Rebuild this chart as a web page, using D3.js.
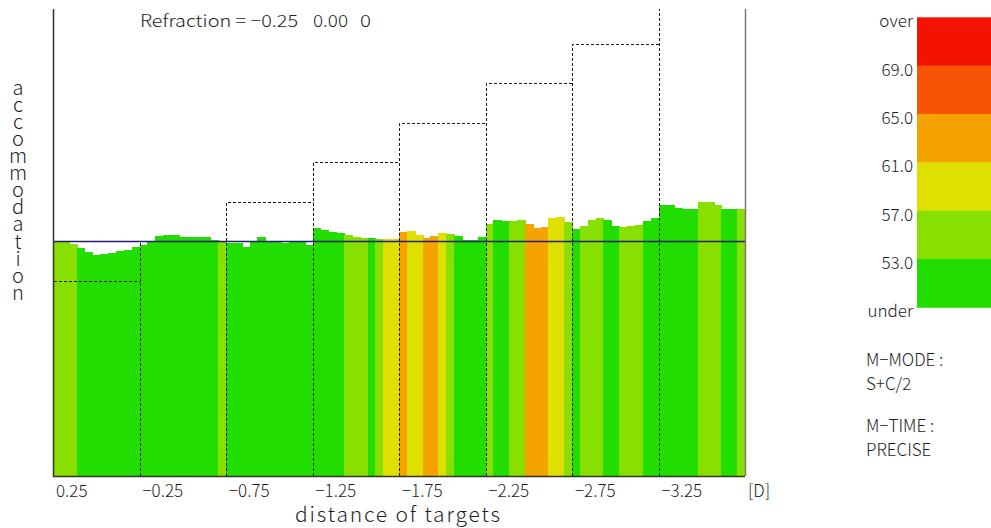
<!DOCTYPE html>
<html>
<head>
<meta charset="utf-8">
<script src="https://cdn.jsdelivr.net/npm/d3@7"></script>
<style>
  html, body { margin: 0; padding: 0; background: #fff; }
  svg { display: block; }
  text { font-family: "Noto Sans CJK JP", "DejaVu Sans", sans-serif; font-weight: 300; fill: #1e1e1e; }
</style>
</head>
<body>
<div id="chart"></div>
<script>
// target distances (D), one section each
var targets = ["0.25", "\u22120.25", "\u22120.75", "\u22121.25", "\u22121.75", "\u22122.25", "\u22122.75", "\u22123.25"];
// accommodation demand of each target relative to refraction (D)
var stepDemand = [-0.5, 0, 0.5, 1.0, 1.5, 2.0, 2.5, 3.0];

// measured accommodation per sample, 11 samples per target (D)
var accommodation = [
  -0.01, -0.01, -0.04, -0.09, -0.14, -0.18, -0.16, -0.15, -0.13, -0.11, -0.08,
  -0.05, 0.00, 0.06, 0.08, 0.07, 0.05, 0.05, 0.05, 0.05, 0.01, 0.00,
  -0.02, -0.03, -0.08, -0.01, 0.05, 0.00, 0.00, -0.02, 0.00, 0.00, -0.05,
  0.16, 0.14, 0.11, 0.10, 0.08, 0.05, 0.04, 0.04, 0.03, 0.02, 0.02,
  0.11, 0.13, 0.07, 0.04, 0.06, 0.10, 0.09, 0.06, 0.01, 0.01, 0.05,
  0.22, 0.27, 0.25, 0.25, 0.26, 0.22, 0.16, 0.18, 0.29, 0.31, 0.24,
  0.15, 0.19, 0.26, 0.29, 0.26, 0.19, 0.18, 0.19, 0.20, 0.25, 0.29,
  0.46, 0.45, 0.42, 0.41, 0.41, 0.50, 0.50, 0.45, 0.40, 0.40, 0.41
];
// fluctuation value per sample (colour)
var hfc = [
  55, 55, 55, 51, 51, 51, 51, 51, 51, 51, 51,
  51, 51, 51, 51, 51, 51, 51, 51, 51, 51, 55,
  51, 51, 51, 51, 51, 51, 51, 51, 51, 51, 51,
  51, 51, 51, 51, 55, 55, 55, 51, 55, 59, 59,
  63, 59, 59, 63, 63, 59, 55, 51, 51, 51, 51,
  55, 51, 51, 55, 55, 63, 63, 63, 59, 59, 55,
  51, 55, 55, 55, 51, 51, 55, 55, 55, 51, 51,
  51, 51, 51, 51, 51, 55, 55, 55, 51, 51, 55
];

var refraction = ["Refraction = \u22120.25", "0.00", "0"];
var legendLabels = ["over", "69.0", "65.0", "61.0", "57.0", "53.0", "under"];
var thresholds = [53, 57, 61, 65, 69];
var bandColors = ["#22dd00", "#88e000", "#e0e000", "#f5a300", "#f55505", "#f41200"];

var W = 991, H = 528;
var plot = {left: 53, right: 745, top: 9, bottom: 476};

var svg = d3.select("#chart").append("svg")
  .attr("width", W).attr("height", H);

svg.append("defs").append("clipPath").attr("id", "plotclip")
  .append("rect")
  .attr("x", plot.left).attr("y", plot.top)
  .attr("width", plot.right - plot.left + 1)
  .attr("height", plot.bottom - plot.top);

var x = d3.scaleBand()
  .domain(d3.range(accommodation.length))
  .range([plot.left, plot.right]);

var xSection = d3.scaleBand()
  .domain(targets)
  .range([plot.left, plot.right]);

var y = d3.scaleLinear()
  .domain([-3, 3])
  .range([478, 4]);

var color = d3.scaleThreshold()
  .domain(thresholds)
  .range(bandColors);

var g = svg.append("g").attr("clip-path", "url(#plotclip)");

// bars
g.selectAll("rect.bar")
  .data(accommodation)
  .enter().append("rect")
  .attr("class", "bar")
  .attr("x", function(d, i) { return Math.round(x(i)); })
  .attr("width", function(d, i) { return Math.round(x(i) + x.bandwidth()) - Math.round(x(i)) + 0.5; })
  .attr("y", function(d) { return Math.round(y(d)); })
  .attr("height", function(d) { return plot.bottom - Math.round(y(d)); })
  .attr("shape-rendering", "crispEdges")
  .attr("fill", function(d, i) { return color(hfc[i]); });

// dashed target steps: each boundary rises from the bottom to the next target level
var stepPath = "";
targets.forEach(function(t, i) {
  var x0 = Math.round(xSection(t)) + 0.5;
  var x1 = Math.round(xSection(t) + xSection.bandwidth()) + 0.5;
  var ys = Math.round(y(stepDemand[i])) + 0.5;
  stepPath += "M" + x0 + "," + plot.bottom + "V" + ys + "H" + x1;
  if (i === targets.length - 1) stepPath += "V" + plot.bottom;
});
g.append("path")
  .attr("d", stepPath)
  .attr("fill", "none")
  .attr("stroke", "#1a1a1a")
  .attr("stroke-width", 1)
  .attr("stroke-dasharray", "3,2");

// refraction line
svg.append("line")
  .attr("x1", plot.left).attr("x2", plot.right)
  .attr("y1", Math.round(y(0)) + 0.5).attr("y2", Math.round(y(0)) + 0.5)
  .attr("stroke", "#1f1f78")
  .attr("stroke-width", 1.3);

// frame
svg.append("path")
  .attr("d", "M" + (plot.left + 0.5) + "," + plot.top + "V" + (plot.bottom + 0.5) + "H" + plot.right)
  .attr("fill", "none").attr("stroke", "#333").attr("stroke-width", 1.5);
svg.append("line")
  .attr("x1", plot.right + 0.5).attr("x2", plot.right + 0.5)
  .attr("y1", plot.top).attr("y2", plot.bottom)
  .attr("stroke", "#777").attr("stroke-width", 1.5);

// x tick labels
svg.selectAll("text.tick")
  .data(targets)
  .enter().append("text")
  .attr("class", "tick")
  .attr("x", function(d) { return xSection(d) + 3; })
  .attr("y", 497)
  .attr("font-size", 17)
  .text(function(d) { return d; });

svg.append("text")
  .attr("x", 748).attr("y", 497)
  .attr("font-size", 17)
  .text("[D]");

svg.append("text")
  .attr("x", 295).attr("y", 522)
  .attr("font-size", 21)
  .attr("textLength", 205)
  .attr("lengthAdjust", "spacing")
  .text("distance of targets");

// vertical y label, letters upright
svg.append("text")
  .attr("x", 18).attr("y", 77)
  .attr("font-size", 20)
  .style("writing-mode", "vertical-rl")
  .style("text-orientation", "upright")
  .style("letter-spacing", "-2.9px")
  .text("accommodation");

// refraction note, three fields
var refX = [140, 313, 360];
var refW = [158, 35, 11];
svg.selectAll("text.ref")
  .data(refraction)
  .enter().append("text")
  .attr("class", "ref")
  .attr("x", function(d, i) { return refX[i]; })
  .attr("y", 27)
  .attr("font-size", 17)
  .attr("textLength", function(d, i) { return refW[i]; })
  .attr("lengthAdjust", "spacingAndGlyphs")
  .text(function(d) { return d; });

// colour legend
var legY = d3.scaleBand()
  .domain(d3.range(bandColors.length))
  .range([17.3, 307.3]);

svg.selectAll("rect.leg")
  .data(bandColors.slice().reverse())
  .enter().append("rect")
  .attr("class", "leg")
  .attr("x", 917)
  .attr("y", function(d, i) { return legY(i); })
  .attr("width", 80)
  .attr("height", legY.bandwidth() + 0.5)
  .attr("fill", function(d) { return d; });

svg.selectAll("text.leglab")
  .data(legendLabels)
  .enter().append("text")
  .attr("class", "leglab")
  .attr("x", 913)
  .attr("y", function(d, i) { return 17.3 + i * legY.bandwidth() + 10; })
  .attr("text-anchor", "end")
  .attr("font-size", 17)
  .text(function(d) { return d; });

var info = [["M\u2212MODE :", 366], ["S+C/2", 390], ["M\u2212TIME :", 432], ["PRECISE", 456]];
svg.selectAll("text.info")
  .data(info)
  .enter().append("text")
  .attr("class", "info")
  .attr("x", 866)
  .attr("y", function(d) { return d[1]; })
  .attr("font-size", 17)
  .text(function(d) { return d[0]; });
</script>
</body>
</html>
